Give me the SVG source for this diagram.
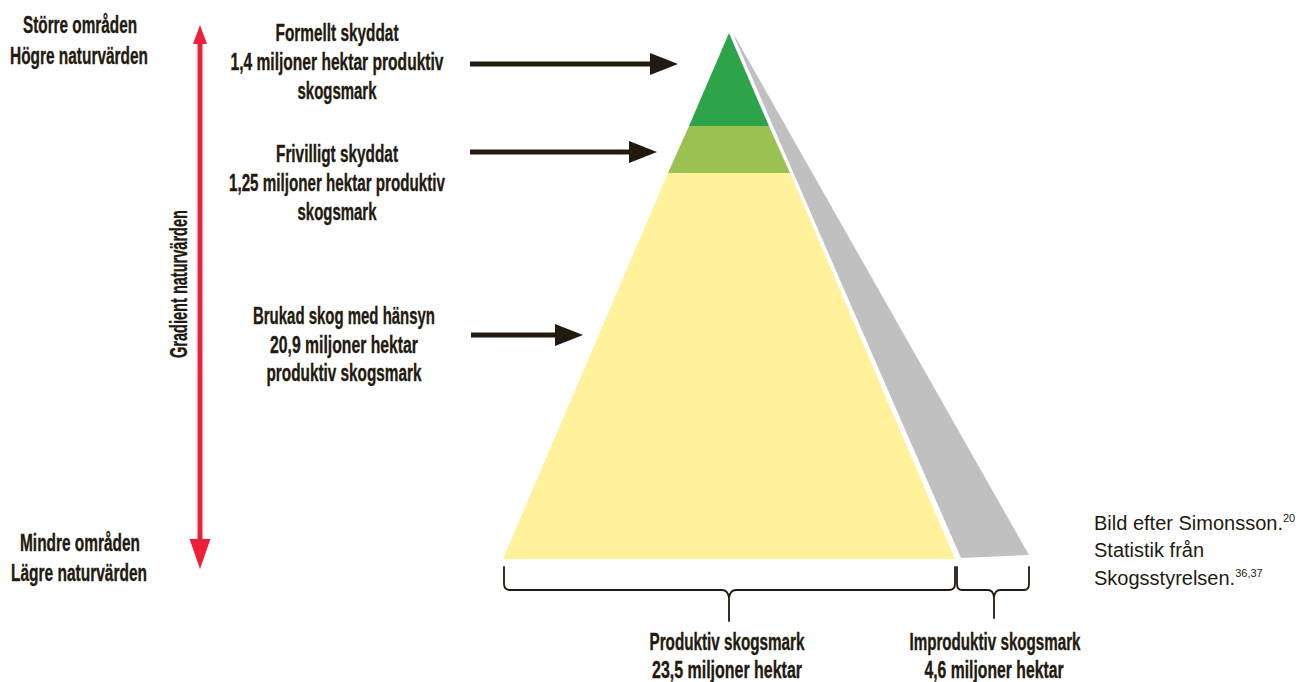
<svg xmlns="http://www.w3.org/2000/svg" width="1312" height="682" viewBox="0 0 1312 682">
  <defs>
    <style>
      .lbl { font-family: "Liberation Sans", Arial, sans-serif; font-weight: bold; font-size: 23px; fill: #231a0f; stroke: #231a0f; stroke-width: 0.35; text-anchor: middle; }
      .note { font-family: "Liberation Sans", Arial, sans-serif; font-size: 20px; fill: #231a0f; }
      .sup { font-size: 11px; }
      .arrow { stroke: #231a0f; stroke-width: 5; fill: none; }
      .brace { stroke: #231a0f; stroke-width: 1.8; fill: none; stroke-linecap: round; }
      .grad { fill: #ee1f3a; }
    </style>
    <marker id="head" markerUnits="userSpaceOnUse" markerWidth="28" markerHeight="22" refX="8" refY="11" orient="auto">
      <path d="M0,0 L28,11 L0,22 Z" fill="#231a0f"/>
    </marker>
  </defs>
  <rect width="1312" height="682" fill="#ffffff"/>

  <!-- pyramid -->
  <g id="pyramid">
    <polygon id="improduktiv-sida" points="733,33 1029,555 961,558 736,41" fill="#c0c0c0"/>
    <polygon id="brukad-skog" points="668,173 790,173 955,559 503,559" fill="#fff29b"/>
    <polygon id="frivilligt-skyddat" points="689,126 769,126 790,173 668,173" fill="#9bc152"/>
    <polygon id="formellt-skyddat" points="729,33 769,126 689,126" fill="#2da44a"/>
  </g>

  <!-- gradient axis -->
  <g id="gradient">
    <rect class="grad" x="197.5" y="40" width="5" height="504"/>
    <polygon class="grad" points="200,25 207,44 193,44"/>
    <polygon class="grad" points="200,569 210.5,539 189.5,539"/>
    <text class="lbl" transform="translate(187,284) rotate(-90)" x="0" y="0" textLength="148" lengthAdjust="spacingAndGlyphs">Gradient naturvärden</text>
  </g>

  <g id="topp">
    <text class="lbl" x="80" y="33" textLength="114" lengthAdjust="spacingAndGlyphs">Större områden</text>
    <text class="lbl" x="79" y="64" textLength="138" lengthAdjust="spacingAndGlyphs">Högre naturvärden</text>
  </g>
  <g id="botten">
    <text class="lbl" x="80" y="551" textLength="120" lengthAdjust="spacingAndGlyphs">Mindre områden</text>
    <text class="lbl" x="79" y="581" textLength="136" lengthAdjust="spacingAndGlyphs">Lägre naturvärden</text>
  </g>

  <g id="lbl-formellt">
    <text class="lbl" x="337" y="41" textLength="123" lengthAdjust="spacingAndGlyphs">Formellt skyddat</text>
    <text class="lbl" x="337" y="70" textLength="213" lengthAdjust="spacingAndGlyphs">1,4 miljoner hektar produktiv</text>
    <text class="lbl" x="337" y="99" textLength="79" lengthAdjust="spacingAndGlyphs">skogsmark</text>
  </g>
  <g id="lbl-frivilligt">
    <text class="lbl" x="337" y="162" textLength="122" lengthAdjust="spacingAndGlyphs">Frivilligt skyddat</text>
    <text class="lbl" x="337" y="191" textLength="216" lengthAdjust="spacingAndGlyphs">1,25 miljoner hektar produktiv</text>
    <text class="lbl" x="337" y="220" textLength="79" lengthAdjust="spacingAndGlyphs">skogsmark</text>
  </g>
  <g id="lbl-brukad">
    <text class="lbl" x="344" y="324" textLength="182" lengthAdjust="spacingAndGlyphs">Brukad skog med hänsyn</text>
    <text class="lbl" x="344" y="353" textLength="148" lengthAdjust="spacingAndGlyphs">20,9 miljoner hektar</text>
    <text class="lbl" x="344" y="381" textLength="155" lengthAdjust="spacingAndGlyphs">produktiv skogsmark</text>
  </g>

  <g id="lbl-produktiv">
    <text class="lbl" x="727" y="650" textLength="155" lengthAdjust="spacingAndGlyphs">Produktiv skogsmark</text>
    <text class="lbl" x="727" y="678" textLength="150" lengthAdjust="spacingAndGlyphs">23,5 miljoner hektar</text>
  </g>
  <g id="lbl-improduktiv">
    <text class="lbl" x="995" y="650" textLength="171" lengthAdjust="spacingAndGlyphs">Improduktiv skogsmark</text>
    <text class="lbl" x="994" y="678" textLength="139" lengthAdjust="spacingAndGlyphs">4,6 miljoner hektar</text>
  </g>

  <g id="kalla">
    <text class="note" x="1094" y="530">Bild efter Simonsson.<tspan class="sup" dy="-8">20</tspan></text>
    <text class="note" x="1094" y="557">Statistik från</text>
    <text class="note" x="1094" y="585">Skogsstyrelsen.<tspan class="sup" dy="-8">36,37</tspan></text>
  </g>

  <!-- connectors -->
  <g id="connectors">
    <line class="arrow" x1="470" y1="64" x2="658" y2="64" marker-end="url(#head)"/>
    <line class="arrow" x1="470" y1="152" x2="637" y2="152" marker-end="url(#head)"/>
    <line class="arrow" x1="471" y1="335" x2="563" y2="335" marker-end="url(#head)"/>
    <path class="brace" d="M504,567 L504,584 Q504,590 510,590 L722,590 Q728,590 729,598 L729,621 M729,598 Q730,590 736,590 L949,590 Q955,590 955,584 L955,567"/>
    <path class="brace" d="M957,567 L957,584 Q957,590 962,590 L988,590 Q993,590 994,597 L994,618 M994,597 Q995,590 1000,590 L1024,590 Q1029,590 1029,584 L1029,567"/>
  </g>
</svg>
